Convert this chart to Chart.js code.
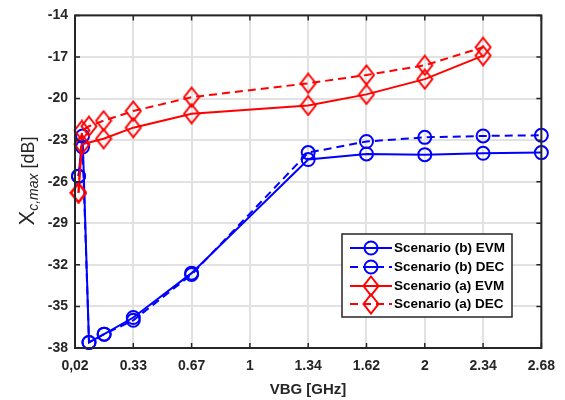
<!DOCTYPE html>
<html>
<head>
<meta charset="utf-8">
<script src="https://cdn.jsdelivr.net/npm/chart.js@4.4.0/dist/chart.umd.min.js"></script>
<style>
  html, body { margin: 0; padding: 0; background: #fff; }
  #wrap { width: 565px; height: 400px; position: relative; }
</style>
</head>
<body>
<div id="wrap"><canvas id="chart"></canvas></div>
<script>
// tick labels (the x axis is evenly spaced, labels sit on positions 0..8)
var xTickLabels = ['0,02', '0.33', '0.67', '1', '1.34', '1.62', '2', '2.34', '2.68'];
var yMin = -38, yMax = -14, yStep = 3;

// Scenario (b) EVM
var bEvmX = [0.06, 0.13, 0.24, 0.5, 1, 2, 4, 5, 6, 7, 8];
var bEvmY = [-25.6, -22.7, -37.6, -37.0, -35.8, -32.6, -24.4, -24.0, -24.05, -23.95, -23.9];
// Scenario (b) DEC
var bDecX = [0.06, 0.13, 0.24, 0.5, 1, 2, 4, 5, 6, 7, 8];
var bDecY = [-25.6, -23.5, -37.6, -37.0, -36.0, -32.7, -23.9, -23.1, -22.8, -22.7, -22.65];
// Scenario (a) EVM
var aEvmX = [0.06, 0.12, 0.49, 1, 2, 4, 5, 6, 7];
var aEvmY = [-26.8, -23.3, -22.9, -22.1, -21.1, -20.5, -19.7, -18.6, -16.9];
// Scenario (a) DEC
var aDecX = [0.06, 0.12, 0.24, 0.49, 1, 2, 4, 5, 6, 7];
var aDecY = [-26.8, -22.3, -22.0, -21.6, -20.9, -19.9, -18.9, -18.3, -17.6, -16.3];

var BLUE = '#0000ff', RED = '#ff0000', INK = '#262626';
var FONT = "'Liberation Sans', Arial, sans-serif";

function pts(xs, ys) {
  return xs.map(function (x, i) { return { x: x, y: ys[i] }; });
}

// matlab style diamond, a bit taller than wide
function diamond(color) {
  var c = document.createElement('canvas');
  c.width = 18; c.height = 22;
  var g = c.getContext('2d');
  g.strokeStyle = color; g.lineWidth = 2;
  g.beginPath();
  g.moveTo(9, 1.5); g.lineTo(16.5, 11); g.lineTo(9, 20.5); g.lineTo(1.5, 11);
  g.closePath(); g.stroke();
  return c;
}
var redDiamond = diamond(RED);

function series(label, xs, ys, color, dashed, marker, order) {
  return {
    label: label,
    data: pts(xs, ys),
    borderColor: color,
    backgroundColor: 'rgba(0,0,0,0)',
    borderWidth: 2,
    borderDash: dashed ? [8, 5] : [],
    pointStyle: marker,
    pointRadius: 6.5,
    pointBorderWidth: 2,
    pointBorderColor: color,
    pointBackgroundColor: 'rgba(0,0,0,0)',
    tension: 0,
    clip: false,
    order: order
  };
}

var frame = {
  id: 'frame',
  afterDraw: function (chart) {
    var ctx = chart.ctx, a = chart.chartArea;
    var xs = chart.scales.x, ys = chart.scales.y;
    ctx.save();
    // inside tick marks
    ctx.strokeStyle = INK; ctx.lineWidth = 1.5;
    ctx.beginPath();
    for (var i = 0; i < xTickLabels.length; i++) {
      var px = xs.getPixelForValue(i);
      ctx.moveTo(px, a.bottom); ctx.lineTo(px, a.bottom - 5);
      ctx.moveTo(px, a.top); ctx.lineTo(px, a.top + 5);
    }
    for (var v = yMin; v <= yMax; v += yStep) {
      var py = ys.getPixelForValue(v);
      ctx.moveTo(a.left, py); ctx.lineTo(a.left + 5, py);
      ctx.moveTo(a.right, py); ctx.lineTo(a.right - 5, py);
    }
    ctx.stroke();
    // box
    ctx.lineWidth = 2;
    ctx.strokeRect(a.left, a.top, a.right - a.left, a.bottom - a.top);

    // x title
    ctx.fillStyle = INK;
    ctx.font = 'bold 15px ' + FONT;
    ctx.textAlign = 'center'; ctx.textBaseline = 'middle';
    ctx.fillText('VBG [GHz]', 308, 390);

    // y title with subscript
    ctx.save();
    ctx.translate(27, 181);
    ctx.rotate(-Math.PI / 2);
    ctx.textAlign = 'left'; ctx.textBaseline = 'alphabetic';
    var p1 = 'normal 22px ' + FONT, p2 = 'italic 14px ' + FONT, p3 = 'normal 18px ' + FONT;
    ctx.font = p1; var w1 = ctx.measureText('X').width;
    ctx.font = p2; var w2 = ctx.measureText('c,max').width;
    ctx.font = p3; var w3 = ctx.measureText(' [dB]').width;
    var x0 = -(w1 + w2 + w3) / 2;
    ctx.font = p1; ctx.fillText('X', x0, 7);
    ctx.font = p2; ctx.fillText('c,max', x0 + w1, 11);
    ctx.font = p3; ctx.fillText(' [dB]', x0 + w1 + w2, 7);
    ctx.restore();

    // legend
    var L = { x: 342, y: 234, w: 170, h: 83 };
    ctx.fillStyle = '#fff';
    ctx.fillRect(L.x, L.y, L.w, L.h);
    ctx.strokeStyle = INK; ctx.lineWidth = 1.5;
    ctx.strokeRect(L.x, L.y, L.w, L.h);
    var rows = [248, 267, 286, 304];
    chart.data.datasets.forEach(function (ds, k) {
      var ry = rows[k];
      ctx.strokeStyle = ds.borderColor; ctx.lineWidth = 2;
      ctx.setLineDash(ds.borderDash);
      ctx.beginPath(); ctx.moveTo(350, ry); ctx.lineTo(392, ry); ctx.stroke();
      ctx.setLineDash([]);
      if (ds.pointStyle === 'circle') {
        ctx.fillStyle = '#fff';
        ctx.beginPath(); ctx.arc(371, ry, 6.5, 0, Math.PI * 2); ctx.fill(); ctx.stroke();
        ctx.beginPath(); ctx.moveTo(364.5, ry); ctx.lineTo(377.5, ry); ctx.stroke();
      } else {
        ctx.drawImage(ds.pointStyle, 371 - 9, ry - 11);
      }
      ctx.fillStyle = '#000';
      ctx.font = 'bold 13.5px ' + FONT;
      ctx.textAlign = 'left'; ctx.textBaseline = 'middle';
      ctx.fillText(ds.label, 394, ry + 0.5);
    });
    ctx.restore();
  }
};

new Chart(document.getElementById('chart'), {
  type: 'line',
  data: {
    datasets: [
      series('Scenario (b) EVM', bEvmX, bEvmY, BLUE, false, 'circle', 4),
      series('Scenario (b) DEC', bDecX, bDecY, BLUE, true, 'circle', 3),
      series('Scenario (a) EVM', aEvmX, aEvmY, RED, false, redDiamond, 2),
      series('Scenario (a) DEC', aDecX, aDecY, RED, true, redDiamond, 1)
    ]
  },
  options: {
    responsive: true,
    maintainAspectRatio: false,
    animation: false,
    devicePixelRatio: 1,
    layout: { padding: { top: 14, right: 22, left: 0, bottom: 0 } },
    plugins: { legend: { display: false }, tooltip: { enabled: false } },
    scales: {
      x: {
        type: 'linear',
        min: 0, max: xTickLabels.length - 1,
        afterFit: function (s) { s.height = 52; },
        afterBuildTicks: function (s) {
          s.ticks = xTickLabels.map(function (t, i) { return { value: i }; });
        },
        ticks: {
          autoSkip: false, maxRotation: 0, padding: 10,
          color: INK, font: { family: FONT, size: 14, weight: 'bold' },
          callback: function (v) { return xTickLabels[v]; }
        },
        grid: { color: '#e2e2e2', lineWidth: 2, drawTicks: false },
        border: { display: false }
      },
      y: {
        type: 'linear',
        min: yMin, max: yMax,
        afterFit: function (s) { s.width = 75; },
        ticks: {
          stepSize: yStep, padding: 7,
          color: INK, font: { family: FONT, size: 14, weight: 'bold' }
        },
        grid: { color: '#e2e2e2', lineWidth: 2, drawTicks: false },
        border: { display: false }
      }
    }
  },
  plugins: [frame]
});
</script>
</body>
</html>
